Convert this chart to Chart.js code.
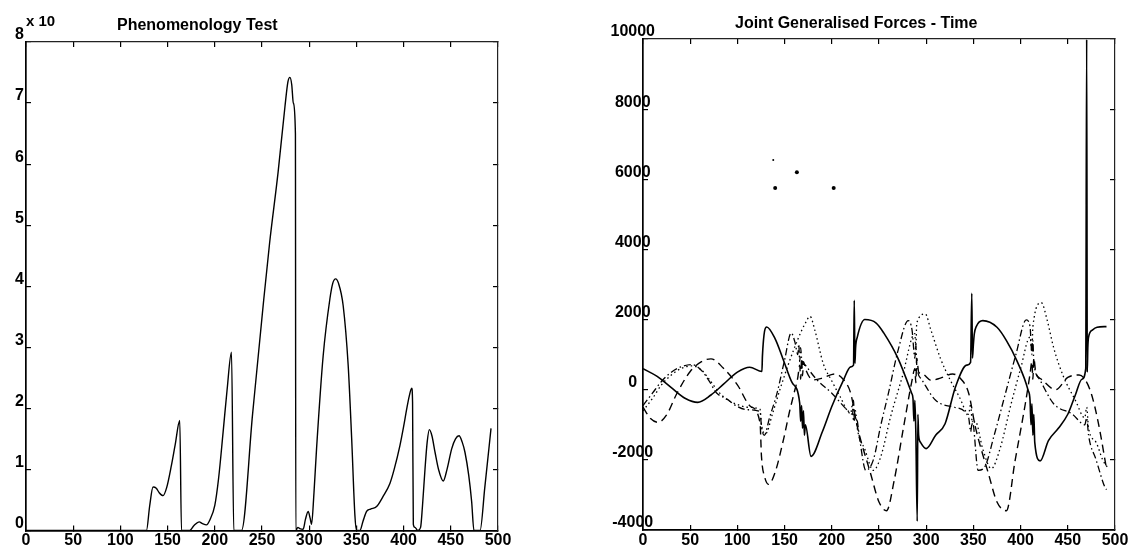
<!DOCTYPE html>
<html><head><meta charset="utf-8">
<script src="https://cdn.jsdelivr.net/npm/chart.js@4/dist/chart.umd.min.js"></script>
<style>
html,body{margin:0;padding:0;background:#fff;}
#wrap{position:relative;width:1139px;height:547px;overflow:hidden;background:#fff;}
canvas{position:absolute;top:0;}
</style></head><body>
<div id="wrap">
<canvas id="c1" width="560" height="547" style="left:0"></canvas>
<canvas id="c2" width="579" height="547" style="left:560px"></canvas>
</div>
<script>
// ---------- tick labels ----------
const xTicks = [0,50,100,150,200,250,300,350,400,450,500];
const leftYTicks = [0,1,2,3,4,5,6,7,8];
const rightYTicks = [-4000,-2000,0,2000,4000,6000,8000,10000];

// ---------- titles ----------
const leftTitle = "Phenomenology Test";
const leftExponent = "x 10";
const rightTitle = "Joint Generalised Forces - Time";

// ---------- left chart series [time, value] ----------
const phenomenology = [[0,0],[127.6,0],[131,0.4],[134.6,0.71],[138,0.69],[141,0.62],[145.2,0.57],[149,0.7],[154.1,1.07],[158,1.4],[162.9,1.8],[164.7,0],[173.5,0],[178,0.08],[183.4,0.14],[187,0.11],[191.2,0.09],[195,0.18],[200,0.41],[204,0.85],[208.8,1.61],[213,2.3],[217.7,2.92],[220.1,0],[228.3,0],[240,1.9],[251.2,3.68],[258,4.7],[267,5.86],[274.3,6.94],[277.5,7.35],[279.6,7.42],[281.5,7.3],[283.2,7.0],[285.4,6.5],[285.8,0],[288,0.05],[290,0.03],[293.6,0.02],[296,0.18],[298.9,0.31],[301,0.2],[302.5,0.1],[305,0.6],[307.8,1.34],[314.8,2.86],[321.9,3.79],[325,4.05],[328,4.12],[331,4.05],[336,3.68],[341.3,2.7],[345,1.5],[348.4,0.25],[350.2,0],[353.7,0],[357,0.15],[360.8,0.31],[365,0.35],[371.4,0.39],[378,0.55],[385.5,0.77],[390,1.0],[396.1,1.39],[400,1.7],[403.3,1.99],[406,2.2],[408.6,2.33],[409.5,2.1],[410.3,0.1],[412,0.05],[415,0],[418,0.05],[420,0.4],[422.7,1.01],[425,1.45],[427.3,1.65],[430,1.55],[433.3,1.28],[437,1.0],[442,0.81],[446,1.0],[451,1.34],[455,1.5],[458.7,1.55],[462,1.45],[465,1.28],[469,0.9],[472.1,0.47],[474.5,0],[481,0],[486,0.7],[492.6,1.67]];

// ---------- right chart series [time, force] ----------
const joint1 = [[0,600],[15,380],[30,60],[45,-250],[58,-360],[72,-150],[85,150],[100,500],[113,640],[126,520],[126.5,950],[131,1790],[140,1450],[148.6,856],[158,200],[166,-380],[167,-900],[168,-450],[169,-1100],[170,-600],[171,-1300],[172,-1000],[178,-1900],[190,-1200],[200,-480],[212,250],[220,650],[223,700],[223.8,2550],[224.5,750],[225.2,1200],[227,1500],[235,2000],[247,1900],[255,1620],[270,900],[284.6,-100],[286,-250],[287,-900],[288,-300],[289,-1200],[290.5,-3750],[291.2,-700],[292,-1300],[294,-1500],[300,-1680],[310,-1300],[320,-970],[331,80],[343,700],[347,780],[348.3,2750],[349,900],[350,1300],[351,1600],[353,1800],[360,1970],[375,1780],[385,1400],[396,830],[408,-20],[410,-300],[411,-1000],[412,-400],[413,-1300],[414,-700],[415,-1500],[420.7,-2030],[429.5,-1450],[440,-1100],[450,-700],[458,-150],[465,300],[469,600],[470,9990],[470.6,500],[471.2,1200],[472,1500],[476,1700],[481,1780],[491,1800]];
const joint2 = [[0,-500],[8,-820],[16,-930],[25,-720],[36,-100],[50,520],[62,800],[72,880],[85,620],[100,140],[114,-480],[124,-950],[125.5,-1900],[129,-2500],[133,-2700],[140,-2350],[149,-1400],[155,-650],[160,-100],[164,350],[166,700],[167,300],[168,900],[169,400],[170,800],[172,600],[180,280],[190,330],[203,450],[212,300],[220,-100],[227,-1050],[241,-2380],[250,-3200],[258,-3450],[266,-2600],[276,-1070],[285,270],[288,600],[289,200],[290,900],[292,500],[296,450],[305,270],[315,330],[328,450],[337,300],[345,-100],[352,-1050],[366,-2400],[375,-3200],[385,-3450],[394,-2050],[405,-400],[410,450],[412,800],[413,300],[414,900],[416,500],[422,300],[437,0],[450,350],[462,420],[468,300],[475,-120],[482,-900],[491,-2250]];
const joint3 = [[0,-450],[10,-100],[20,250],[30,500],[40,650],[52,714],[62,550],[70,250],[78,-95],[88,-250],[100,-480],[110,-570],[124,-620],[125.5,-1050],[128.5,-1300],[134,-800],[142,-95],[150,850],[157,1620],[161,1350],[164,1000],[165,1300],[166,800],[167,1200],[168,900],[172,700],[184,290],[200,-100],[216,-570],[222,-700],[223,-300],[224,-900],[226,-800],[230,-1500],[236,-2300],[244,-2000],[252,-1000],[260,-100],[270,1100],[281,1970],[285,1700],[288,900],[289,1300],[290,700],[295,300],[310,-300],[330,-500],[345,-800],[347,-1200],[349,-900],[355,-2300],[362,-2200],[372,-1300],[384,-100],[395,1000],[406,1990],[410,1800],[412,1000],[413,1400],[414,800],[420,300],[435,-400],[455,-700],[468,-1000],[470,-800],[472,-1300],[480,-2000],[489.6,-2800],[491,-2850]];
const joint4 = [[0,-600],[10,-250],[20,150],[30,420],[40,600],[52,680],[62,560],[70,300],[80,-60],[90,-300],[100,-420],[110,-500],[124,-560],[125.5,-1000],[130,-1250],[137,-700],[145,0],[155,800],[165,1500],[172,1900],[177,2090],[182,1700],[191,740],[200,250],[209,-209],[220,-680],[222,-400],[223,-900],[225,-600],[227,-1100],[235,-1700],[244,-2300],[252,-1900],[262,-800],[275,400],[288,1600],[289,1200],[290,1900],[299,2160],[305,1700],[315,900],[325,300],[335,-200],[345,-700],[347,-400],[349,-1000],[352,-900],[360,-1700],[369,-2250],[378,-1700],[390,-400],[400,600],[410,1500],[412,1100],[413,1800],[422,2480],[428,2000],[435,1200],[445,400],[458,-300],[468,-800],[470,-500],[472,-1100],[480,-1500],[487,-2000],[493,-2250]];
const strayPoints = [[140,5750],[163,6200],[202,5750],[138,6550]];

// ---------- helpers ----------
const FONT = "'Liberation Sans', Arial, Helvetica, sans-serif";
const toXY = arr => arr.map(p => ({x:p[0], y:p[1]}));

const textPlugin = {
  id: 'texts',
  afterDraw(chart, args, opts) {
    const ctx = chart.ctx, a = chart.chartArea;
    ctx.save();
    ctx.fillStyle = '#000';
    ctx.textBaseline = 'alphabetic';
    (opts.items || []).forEach(it => {
      ctx.font = it.font;
      ctx.textAlign = 'left';
      ctx.fillText(it.text, a.left + it.dx, it.y);
    });
    ctx.restore();
  }
};

function axisGrid() {
  return { display:true, drawOnChartArea:false, drawTicks:true, tickLength:-5, color:'#000', tickColor:'#000', lineWidth:1.2 };
}
function axisBorder() { return { display:true, color:'#000', width:1.7 }; }

function makeScales(yTicks, yLabelPadding, yCross, yWidth, xHeight) {
  const setTicks = vals => (s => { s.ticks = vals.map(v => ({value:v})); });
  const yMin = yTicks[0], yMax = yTicks[yTicks.length-1];
  const plain = v => String(v);
  return {
    x: { type:'linear', position:'bottom', min:0, max:500,
         afterBuildTicks: setTicks(xTicks),
         afterFit: s => { s.height = xHeight; s._computeLabelArea = () => undefined; },
         grid: axisGrid(), border: axisBorder(),
         ticks: { color:'#000', font:{family:FONT, size:16, weight:'bold'}, padding:6, maxRotation:0, autoSkip:false, callback: plain } },
    xTop: { type:'linear', position:'top', min:0, max:500,
         afterBuildTicks: setTicks(xTicks),
         afterFit: s => { s.height = 0; },
         grid: axisGrid(), border: {display:true, color:'#222', width:1.2},
         ticks: { display:false } },
    y: { type:'linear', position:'left', min:yMin, max:yMax,
         afterBuildTicks: setTicks(yTicks),
         afterFit: s => { s.width = yWidth; s._computeLabelArea = () => undefined; },
         grid: axisGrid(), border: axisBorder(),
         ticks: { color:'#000', font:{family:FONT, size:16, weight:'bold'}, padding:yLabelPadding, crossAlign:yCross, labelOffset:-7, autoSkip:false, callback: plain } },
    yRight: { type:'linear', position:'right', min:yMin, max:yMax,
         afterBuildTicks: setTicks(yTicks),
         afterFit: s => { s.width = 0; },
         grid: axisGrid(), border: {display:true, color:'#222', width:1.2},
         ticks: { display:false } }
  };
}

function lineDs(data, dash, width) {
  return { data: toXY(data), xAxisID:'x', yAxisID:'y', borderColor:'#000', borderWidth:width,
           borderDash:dash, pointRadius:0, fill:false, cubicInterpolationMode:'monotone' };
}

const common = {
  responsive:false, animation:false, devicePixelRatio:1,
  plugins:{ legend:{display:false}, tooltip:{enabled:false}, title:{display:false} }
};

// ---------- left chart ----------
new Chart(document.getElementById('c1'), {
  type:'line',
  data:{ datasets:[ lineDs(phenomenology, [], 1.4) ] },
  options: Object.assign({}, common, {
    layout:{ padding:{ top:42, right:62, left:0, bottom:0 } },
    scales: makeScales(leftYTicks, 7, 'near', 26, 15),
    plugins: Object.assign({}, common.plugins, {
      texts:{ items:[
        { text:leftTitle, dx:91, y:30, font:"bold 16px "+FONT },
        { text:leftExponent, dx:0, y:26, font:"bold 15px "+FONT }
      ]}
    })
  }),
  plugins:[textPlugin]
});

// ---------- right chart ----------
new Chart(document.getElementById('c2'), {
  type:'line',
  data:{ datasets:[
    lineDs(joint1, [], 1.6),
    lineDs(joint2, [8,5], 1.4),
    lineDs(joint3, [7,3,1.5,3], 1.3),
    lineDs(joint4, [1.5,3], 1.3),
    { type:'scatter', data: toXY(strayPoints), xAxisID:'x', yAxisID:'y', pointRadius:[2,2,2,1], pointBackgroundColor:'#000', pointBorderWidth:0, showLine:false }
  ]},
  options: Object.assign({}, common, {
    layout:{ padding:{ top:39, right:24, left:0, bottom:0 } },
    scales: makeScales(rightYTicks, -7, 'center', 83, 17),
    plugins: Object.assign({}, common.plugins, {
      texts:{ items:[
        { text:rightTitle, dx:92, y:28, font:"bold 16px "+FONT }
      ]}
    })
  }),
  plugins:[textPlugin]
});
</script>
</body></html>
